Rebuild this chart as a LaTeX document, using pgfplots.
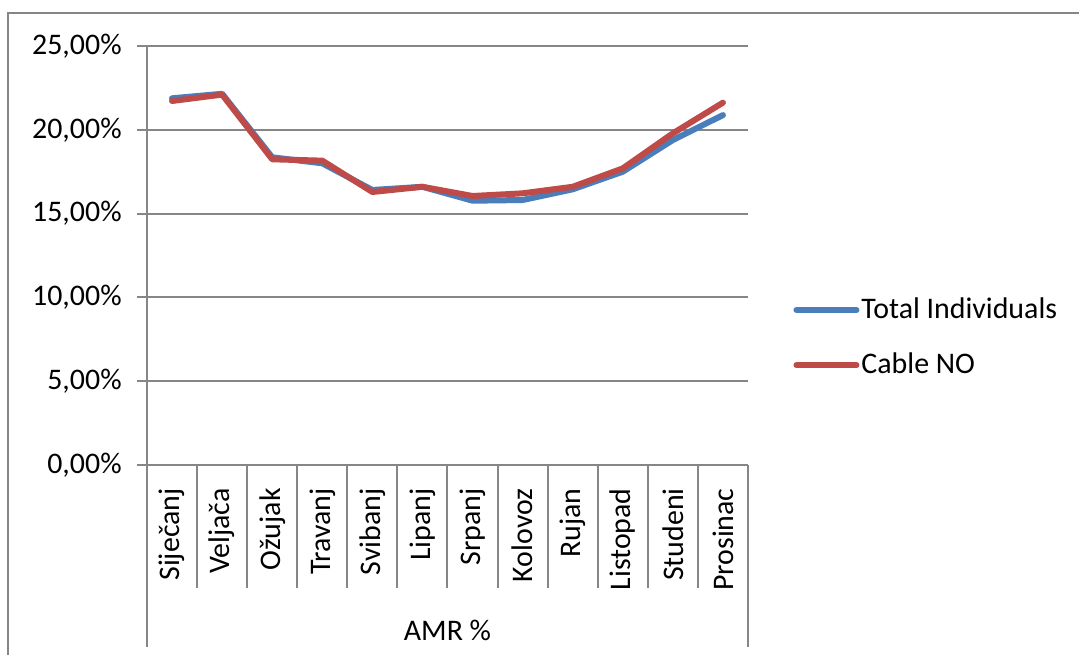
\documentclass[border=0pt]{standalone}
\usepackage{pgfplots}
\pgfplotsset{compat=1.18}
\usetikzlibrary{calc}
\usepackage{fontspec}
\setmainfont{Carlito}
\definecolor{exblue}{HTML}{4A7EBB}
\definecolor{exred}{HTML}{BE4B48}
\definecolor{exgray}{HTML}{868686}
\newlength{\U}
\setlength{\U}{0.5bp}
\begin{document}
\fontsize{15}{18}\selectfont
\begin{tikzpicture}
\useasboundingbox (0,0) rectangle (1079\U,-655\U);
\draw[exgray, line width=1bp] (8\U,-655\U) -- (8\U,-13\U) -- (1085\U,-13\U);
\begin{axis}[
  anchor=south west, at={(147\U,-465\U)},
  scale only axis, width=601\U, height=419\U,
  xmin=-0.5, xmax=11.5, ymin=0, ymax=25,
  axis lines=left, axis line style={-, draw=exgray, line width=1bp},
  clip=false,
  xtick={0,...,11},
  xticklabels={Siječanj,Veljača,Ožujak,Travanj,Svibanj,Lipanj,Srpanj,Kolovoz,Rujan,Listopad,Studeni,Prosinac},
  xticklabel style={rotate=90, anchor=east, inner sep=0pt},
  xtick style={draw=none},
  ytick={0,5,...,25},
  yticklabel={\pgfmathprintnumber[fixed,fixed zerofill,precision=2,use comma]{\tick}\%},
  yticklabel style={inner sep=0pt},
  /pgf/number format/assume math mode=true,
  ytick align=outside, major tick length=10\U,
  ytick style={draw=exgray, line width=1bp},
  tick label style={font=\fontsize{15}{18}\selectfont},
  xticklabel shift=18\U, yticklabel shift=15\U,
  ymajorgrids, grid style={draw=exgray, line width=1bp},
  legend style={draw=none, fill=none, at={(1.075,0.304)}, anchor=west, inner sep=0pt,
    font=\fontsize{15}{18}\selectfont, row sep=26\U,
    nodes={inner xsep=2\U, inner ysep=2\U}},
  legend cell align=left,
  legend image code/.code={\draw[#1] (0,0) -- (60\U,0);},
]
\addplot[exblue, line width=3bp, line cap=round, line join=round] coordinates {
(0,21.88) (1,22.15) (2,18.36) (3,18.0) (4,16.41) (5,16.6) (6,15.77) (7,15.81) (8,16.45) (9,17.5) (10,19.39) (11,20.88)};
\addlegendentry{Total Individuals}
\addplot[exred, line width=3bp, line cap=round, line join=round] coordinates {
(0,21.72) (1,22.1) (2,18.24) (3,18.16) (4,16.29) (5,16.6) (6,16.05) (7,16.21) (8,16.6) (9,17.7) (10,19.79) (11,21.62)};
\addlegendentry{Cable NO}
\pgfplotsinvokeforeach{0.5,1.5,...,10.5}{\draw[exgray, line width=1bp] (axis cs:#1,0) -- ([yshift=-123\U]axis cs:#1,0);}
\draw[exgray, line width=1bp] (axis cs:-0.5,0) -- ([yshift=-182\U]axis cs:-0.5,0);
\draw[exgray, line width=1bp] (axis cs:11.5,0) -- ([yshift=-182\U]axis cs:11.5,0);
\node[anchor=center] at ([yshift=-165\U]axis cs:5.5,0) {AMR \%};
\end{axis}
\end{tikzpicture}
\end{document}
